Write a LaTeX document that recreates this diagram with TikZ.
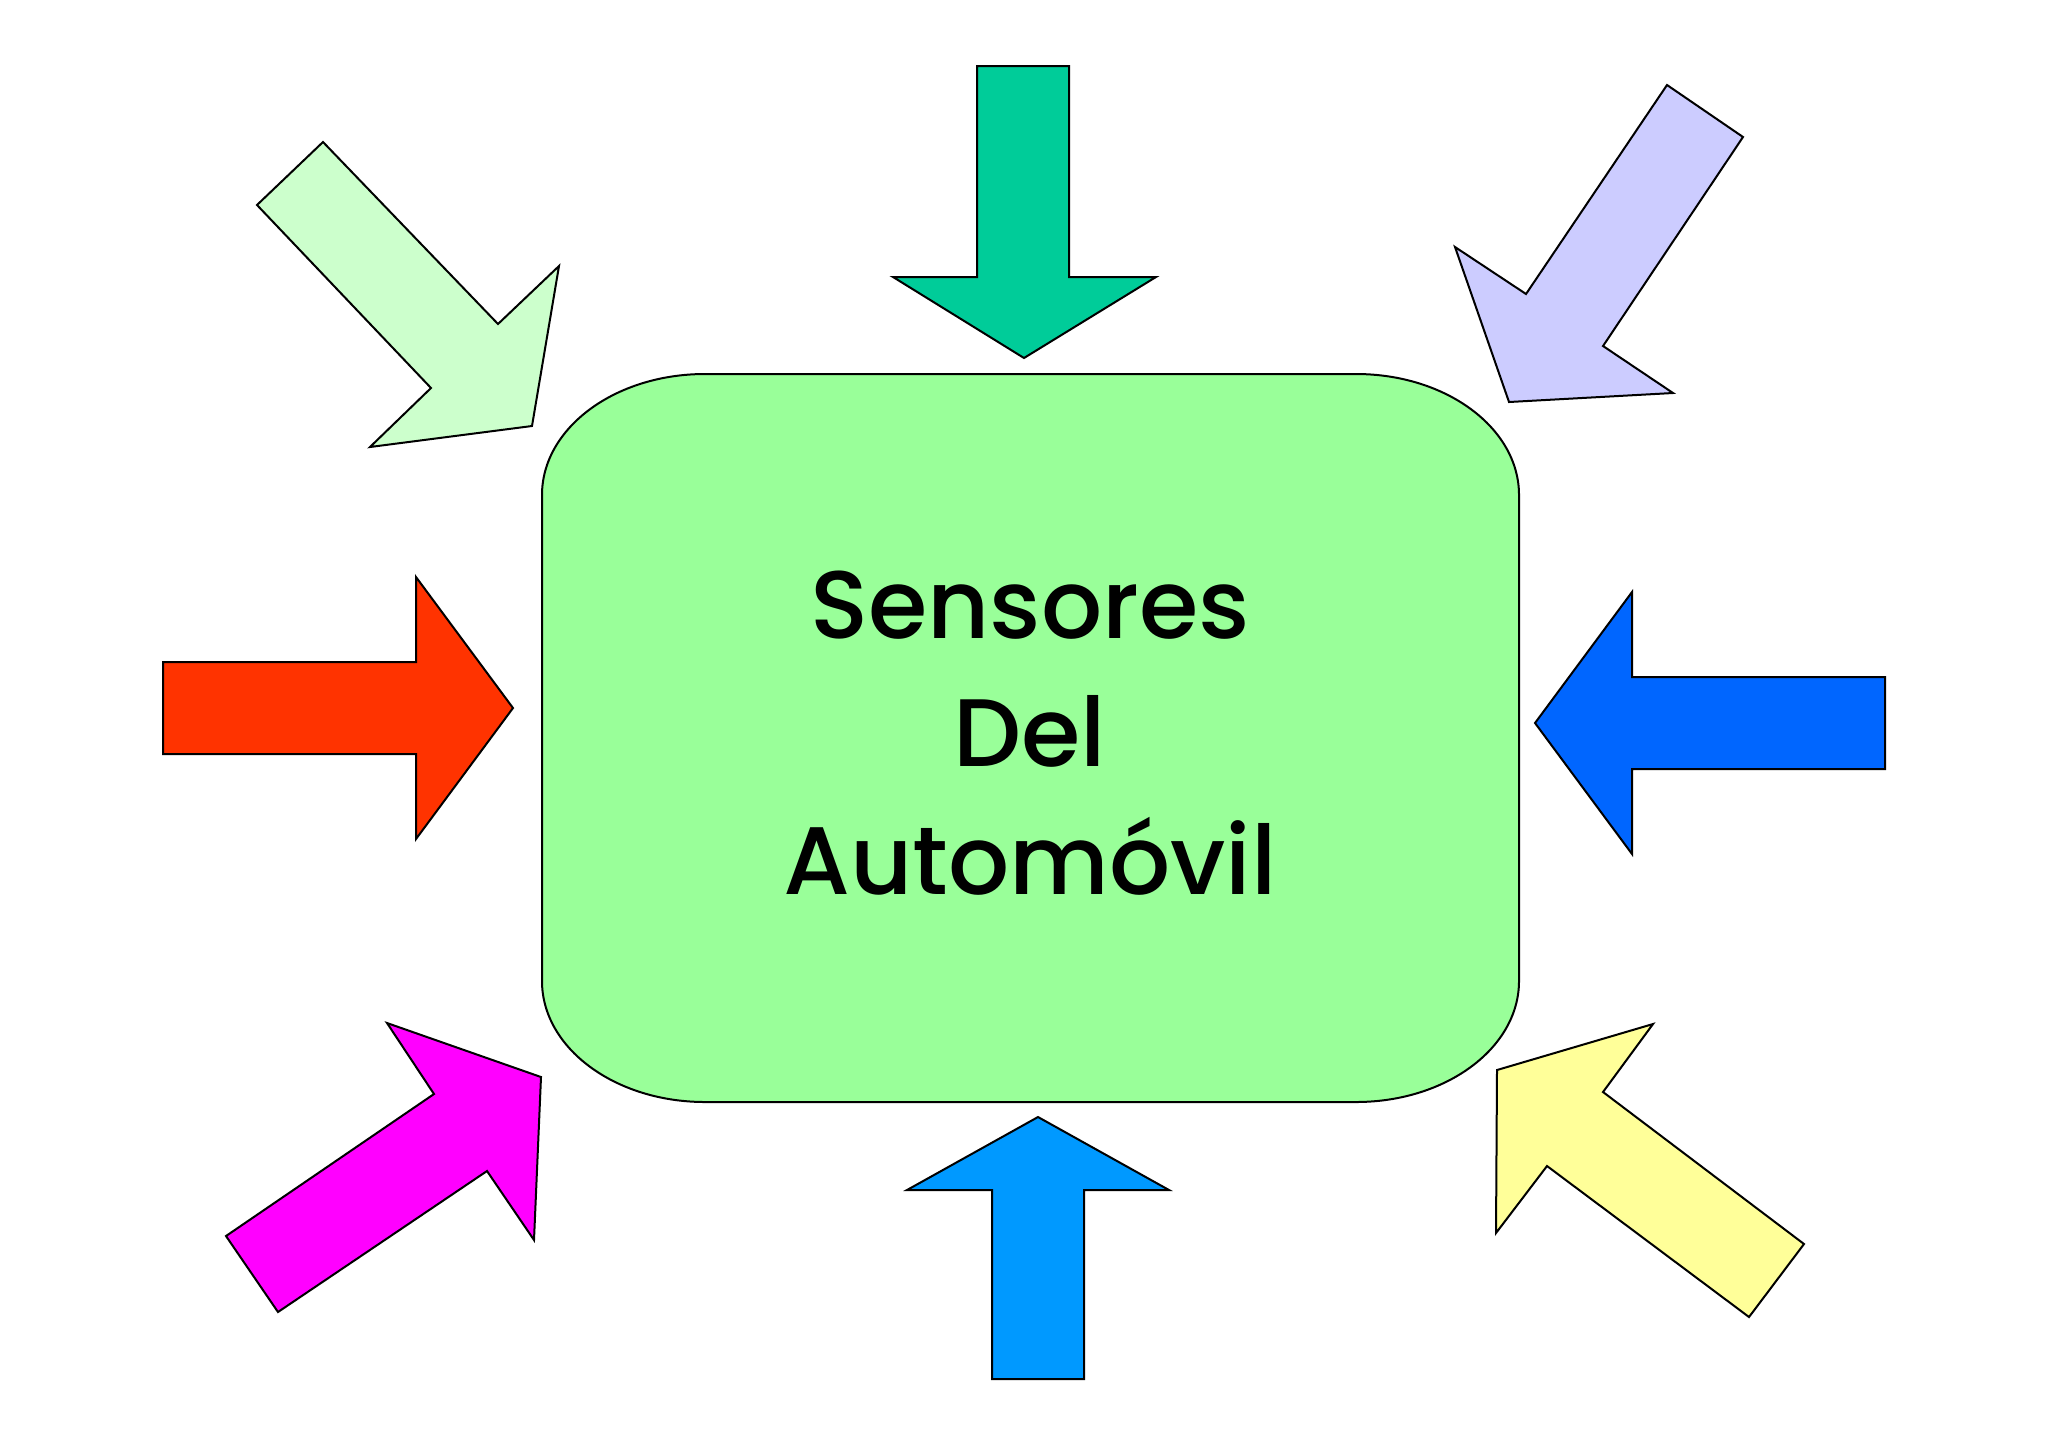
\documentclass[tikz,border=0pt]{standalone}
\usepackage{fontspec}
\setmainfont{Poppins}
\newfontfamily\titlefont{Poppins}[UprightFont=* Medium]
\definecolor{boxgreen}{HTML}{99FF99}
\definecolor{agreenlt}{HTML}{CCFFCC}
\definecolor{ateal}{HTML}{00CC99}
\definecolor{alav}{HTML}{CCCCFF}
\definecolor{ared}{HTML}{FF3300}
\definecolor{ablue}{HTML}{0066FF}
\definecolor{amag}{HTML}{FF00FF}
\definecolor{asky}{HTML}{0099FF}
\definecolor{ayel}{HTML}{FFFF99}
\tikzset{
  shapeline/.style={draw=black, line width=1pt, line join=miter},
  bigarrow/.style={shapeline},
  titletext/.style={align=center, font=\titlefont\fontsize{48}{64}\selectfont, text=black, inner sep=0pt}
}
\begin{document}
\begin{tikzpicture}[x=0.5pt, y=-0.5pt]
\useasboundingbox[fill=white] (0,0) rectangle (2048,1447);
% central box with elliptical corners
\path[shapeline, fill=boxgreen] (705,374) -- (1356,374) .. controls (1446,374) and (1519,428) .. (1519,495) -- (1519,981) .. controls (1519,1048) and (1446,1102) .. (1356,1102) -- (705,1102) .. controls (615,1102) and (542,1048) .. (542,981) -- (542,495) .. controls (542,428) and (615,374) .. (705,374) -- cycle;
\node[titletext] (title) at (1030,733) {Sensores\\Del\\Automóvil};
% top arrow
\path[bigarrow, fill=ateal] (977,66) -- (1069,66) -- (1069,277) -- (1156,277) -- (1024,358) -- (893,277) -- (977,277) -- cycle;
% bottom arrow
\path[bigarrow, fill=asky] (992,1379) -- (1084,1379) -- (1084,1190) -- (1169,1190) -- (1038,1117) -- (907,1190) -- (992,1190) -- cycle;
% left arrow
\path[bigarrow, fill=ared] (163,662) -- (416,662) -- (416,577) -- (513,708) -- (416,839) -- (416,754) -- (163,754) -- cycle;
% right arrow
\path[bigarrow, fill=ablue] (1885,677) -- (1632,677) -- (1632,592) -- (1535,723) -- (1632,854) -- (1632,769) -- (1885,769) -- cycle;
% top-left arrow
\path[bigarrow, fill=agreenlt] (323,142) -- (498,324) -- (559,266) -- (532,426) -- (370,447) -- (431,388) -- (257,205) -- cycle;
% top-right arrow
\path[bigarrow, fill=alav] (1667,85) -- (1743,137) -- (1603,346) -- (1673,393) -- (1509,402) -- (1455,247) -- (1526,294) -- cycle;
% bottom-left arrow
\path[bigarrow, fill=amag] (226,1236) -- (434,1094) -- (387,1023) -- (541,1077) -- (534,1240) -- (487,1171) -- (278,1312) -- cycle;
% bottom-right arrow
\path[bigarrow, fill=ayel] (1804,1244) -- (1603,1092) -- (1653,1024) -- (1497,1070) -- (1496,1233) -- (1547,1166) -- (1749,1317) -- cycle;
\end{tikzpicture}
\end{document}
